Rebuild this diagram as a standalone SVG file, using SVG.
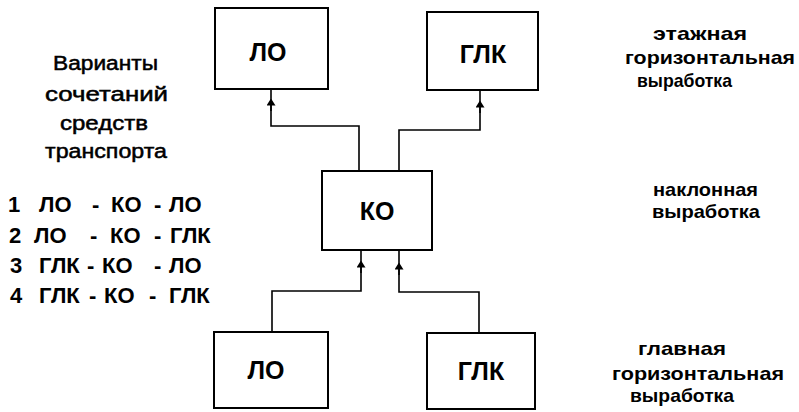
<svg xmlns="http://www.w3.org/2000/svg" width="799" height="412" viewBox="0 0 799 412">
<style>
.box{fill:#fff;stroke:#000;stroke-width:2}
.lbl{font-family:"Liberation Sans",Arial,sans-serif;font-size:25px;font-weight:bold;text-anchor:middle;fill:#000}
.t{font-family:"Liberation Sans",Arial,sans-serif;fill:#000}
.h{font-size:20px;stroke:#000;stroke-width:0.5}
.l{font-size:22px;font-weight:bold}
.r{font-size:19px;font-weight:bold}
.c{fill:none;stroke:#000;stroke-width:1.6}
</style>
<defs>
<marker id="ah" viewBox="0 0 7 9" refX="3.5" refY="4.5" markerWidth="7" markerHeight="9" markerUnits="userSpaceOnUse" orient="auto">
<path d="M0,0 L7,4.5 L0,9 Z" fill="#000"/>
</marker>
</defs>
<g id="connectors">
<path class="c" d="M359,171 V126 H271 V89"/>
<path class="c" d="M271,111 V102" marker-end="url(#ah)"/>
<path class="c" d="M399,171 V130 H480 V90"/>
<path class="c" d="M480,113 V104" marker-end="url(#ah)"/>
<path class="c" d="M272,332 V291 H361 V250"/>
<path class="c" d="M361,273 V264" marker-end="url(#ah)"/>
<path class="c" d="M479,333 V292 H399 V250"/>
<path class="c" d="M399,275 V266" marker-end="url(#ah)"/>
</g>
<g id="lo_top"><rect class="box" x="215" y="8" width="113" height="81"/><text class="lbl" x="268" y="61">ЛО</text></g>
<g id="glk_top"><rect class="box" x="427" y="12" width="111" height="78"/><text class="lbl" x="483" y="63">ГЛК</text></g>
<g id="ko"><rect class="box" x="322" y="171" width="110" height="79"/><text class="lbl" x="377" y="220">КО</text></g>
<g id="lo_bottom"><rect class="box" x="214" y="332" width="114" height="76"/><text class="lbl" x="266" y="379">ЛО</text></g>
<g id="glk_bottom"><rect class="box" x="427" y="333" width="108" height="76"/><text class="lbl" x="481" y="380">ГЛК</text></g>
<g id="legend">
<text class="t h" x="53" y="70" textLength="105" lengthAdjust="spacingAndGlyphs">Варианты</text>
<text class="t h" x="45" y="101" textLength="123" lengthAdjust="spacingAndGlyphs">сочетаний</text>
<text class="t h" x="60" y="130" textLength="88" lengthAdjust="spacingAndGlyphs">средств</text>
<text class="t h" x="45" y="158" textLength="122" lengthAdjust="spacingAndGlyphs">транспорта</text>
<text class="t l" y="212"><tspan x="8">1</tspan><tspan x="39">ЛО</tspan><tspan x="92">-</tspan><tspan x="111">КО</tspan><tspan x="154">-</tspan><tspan x="169">ЛО</tspan></text>
<text class="t l" y="243"><tspan x="9">2</tspan><tspan x="34">ЛО</tspan><tspan x="90">-</tspan><tspan x="110">КО</tspan><tspan x="154">-</tspan><tspan x="170">ГЛК</tspan></text>
<text class="t l" y="273"><tspan x="10">3</tspan><tspan x="39">ГЛК</tspan><tspan x="87">-</tspan><tspan x="102">КО</tspan><tspan x="154">-</tspan><tspan x="169">ЛО</tspan></text>
<text class="t l" y="303"><tspan x="10">4</tspan><tspan x="39">ГЛК</tspan><tspan x="89">-</tspan><tspan x="104">КО</tspan><tspan x="149">-</tspan><tspan x="169">ГЛК</tspan></text>
</g>
<g id="levels">
<text class="t r" x="653" y="40" textLength="94" lengthAdjust="spacingAndGlyphs">этажная</text>
<text class="t r" x="625" y="64" textLength="170" lengthAdjust="spacingAndGlyphs">горизонтальная</text>
<text class="t r" x="637" y="87" textLength="95" lengthAdjust="spacingAndGlyphs">выработка</text>
<text class="t r" x="653" y="196" textLength="105" lengthAdjust="spacingAndGlyphs">наклонная</text>
<text class="t r" x="652" y="218" textLength="108" lengthAdjust="spacingAndGlyphs">выработка</text>
<text class="t r" x="638" y="355" textLength="88" lengthAdjust="spacingAndGlyphs">главная</text>
<text class="t r" x="612" y="380" textLength="172" lengthAdjust="spacingAndGlyphs">горизонтальная</text>
<text class="t r" x="630" y="402" textLength="104" lengthAdjust="spacingAndGlyphs">выработка</text>
</g>
</svg>
